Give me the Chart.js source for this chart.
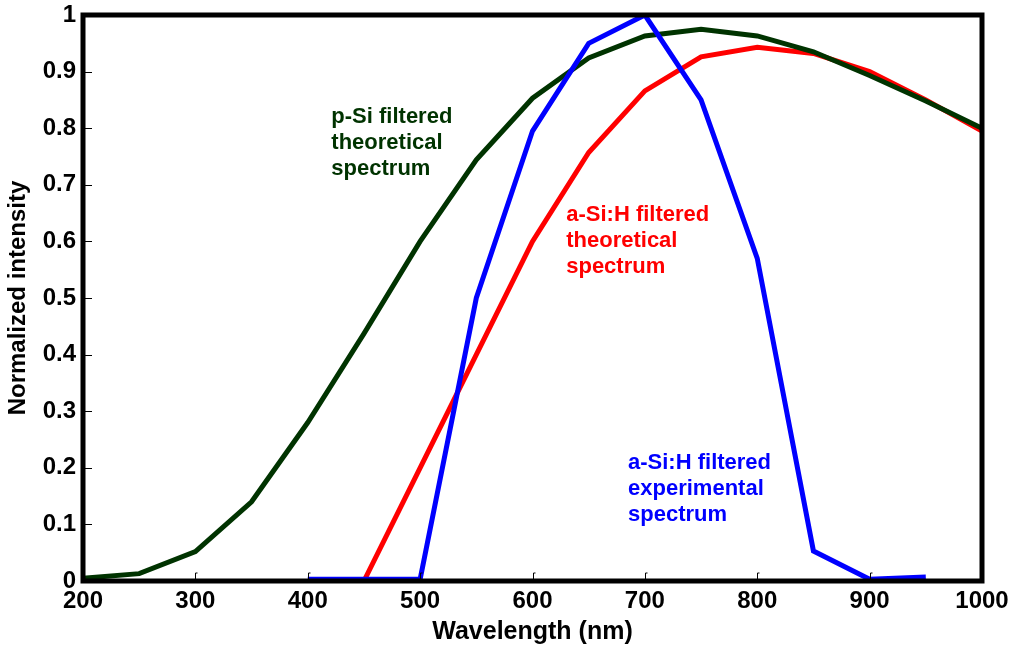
<!DOCTYPE html>
<html>
<head>
<meta charset="utf-8">
<script src="https://cdn.jsdelivr.net/npm/chart.js@4"></script>
<style>
  body { margin:0; background:#fff; }
  #wrap { width:1011px; height:647px; }
</style>
</head>
<body>
<div id="wrap"><canvas id="spectra"></canvas></div>
<script>
// wavelength grid (nm)
const wavelengths = [200,250,300,350,400,450,500,550,600,650,700,750,800,850,900,950,1000];
// p-Si filtered theoretical spectrum
const pSiTheory = [0.005,0.013,0.052,0.14,0.28,0.437,0.60,0.744,0.853,0.924,0.963,0.975,0.963,0.935,0.893,0.848,0.80];
// a-Si:H filtered theoretical spectrum
const aSiTheory = [null,null,null,null,null,0.0,0.20,0.40,0.60,0.757,0.866,0.926,0.943,0.932,0.90,0.85,0.795];
// a-Si:H filtered experimental spectrum
const aSiExperiment = [null,null,null,null,0.003,0.003,0.003,0.50,0.795,0.95,1.0,0.85,0.57,0.053,0.003,0.007,null];

const yTicks = [0,0.1,0.2,0.3,0.4,0.5,0.6,0.7,0.8,0.9,1];
const xTicks = [200,300,400,500,600,700,800,900,1000];

const GREEN = '#003300', RED = '#ff0000', BLUE = '#0000ff';
const FONT = '"Liberation Sans", Arial, sans-serif';

function toPoints(vals){
    return wavelengths.map((w,i)=>({x:w, y:vals[i]}));
}

// text labels next to each curve, placed in data units
const notes = [
    {x:421, y:0.820, color:GREEN, lines:['p-Si filtered','theoretical','spectrum']},
    {x:630, y:0.646, color:RED, lines:['a-Si:H filtered','theoretical','spectrum']},
    {x:685, y:0.208, color:BLUE, lines:['a-Si:H filtered','experimental','spectrum']}
];

const frame = {
    id:'frame',
    afterDatasetsDraw(chart){
        const c = chart.ctx, a = chart.chartArea;
        const xs = chart.scales.x, ys = chart.scales.y;
        c.save();
        // small inward ticks
        c.strokeStyle = '#000';
        c.lineWidth = 1;
        yTicks.forEach(v=>{
            const py = Math.round(ys.getPixelForValue(v)) + 0.5;
            c.beginPath(); c.moveTo(a.left, py); c.lineTo(a.left + 9, py); c.stroke();
        });
        xTicks.slice(1, -1).forEach(v=>{
            const px = Math.round(xs.getPixelForValue(v)) + 0.5;
            c.beginPath(); c.moveTo(px, a.bottom); c.lineTo(px, a.bottom - 8); c.lineTo(px + 2, a.bottom - 8); c.stroke();
        });
        // thick box round the plot
        c.lineWidth = 5;
        c.strokeRect(a.left, a.top, a.right - a.left, a.bottom - a.top);
        // curve labels
        c.font = 'bold 22px ' + FONT;
        c.textBaseline = 'middle';
        c.textAlign = 'left';
        notes.forEach(n=>{
            c.fillStyle = n.color;
            const px = xs.getPixelForValue(n.x), py = ys.getPixelForValue(n.y);
            n.lines.forEach((t,i)=> c.fillText(t, px, py + i*26));
        });
        c.restore();
    }
};

const ctx = document.getElementById('spectra');
new Chart(ctx,{
    type:'line',
    data:{
        datasets:[
            {label:'a-Si:H filtered experimental spectrum', data:toPoints(aSiExperiment), borderColor:BLUE},
            {label:'p-Si filtered theoretical spectrum', data:toPoints(pSiTheory), borderColor:GREEN},
            {label:'a-Si:H filtered theoretical spectrum', data:toPoints(aSiTheory), borderColor:RED}
        ]
    },
    options:{
        responsive:true,
        maintainAspectRatio:false,
        animation:false,
        spanGaps:false,
        layout:{ padding:{ top:15, right:29, left:0, bottom:0 } },
        elements:{
            point:{ radius:0 },
            line:{ borderWidth:5, tension:0, borderJoinStyle:'miter' }
        },
        plugins:{
            legend:{ display:false },
            tooltip:{ enabled:false }
        },
        scales:{
            x:{
                type:'linear',
                min:200, max:1000,
                afterFit:(s)=>{ s.height = 66; s.paddingLeft = 0; s.paddingRight = 0; },
                afterBuildTicks:(s)=>{ s.ticks = xTicks.map(v=>({value:v})); },
                grid:{ display:false, drawTicks:false },
                border:{ display:false },
                ticks:{ padding:6, color:'#000', font:{ family:FONT, size:24, weight:'bold' }, maxRotation:0,
                        callback:(v)=>String(v) },
                title:{ display:true, text:'Wavelength (nm)', color:'#000', padding:{top:0,bottom:0},
                        font:{ family:FONT, size:25, weight:'bold' } }
            },
            y:{
                min:0, max:1,
                afterFit:(s)=>{ s.width = 83; s.paddingTop = 0; s.paddingBottom = 0; },
                afterBuildTicks:(s)=>{ s.ticks = yTicks.map(v=>({value:v})); },
                grid:{ display:false, drawTicks:false },
                border:{ display:false },
                ticks:{ padding:7, color:'#000', font:{ family:FONT, size:24, weight:'bold' },
                        callback:(v)=>String(v) },
                title:{ display:true, text:'Normalized intensity', color:'#000', padding:{top:4,bottom:0},
                        font:{ family:FONT, size:24, weight:'bold' } }
            }
        }
    },
    plugins:[frame]
});
</script>
</body>
</html>
